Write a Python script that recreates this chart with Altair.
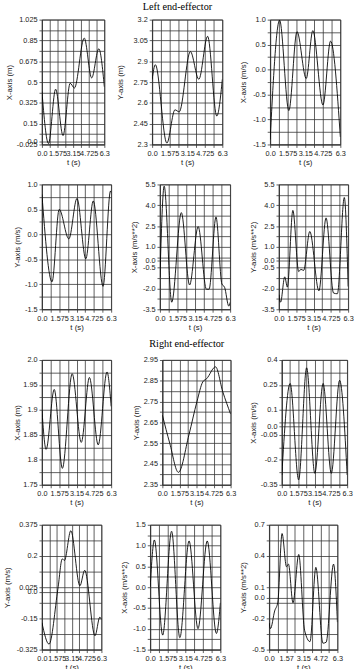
import altair as alt
import pandas as pd

# ---- shared time axis -------------------------------------------------------
T_END = 6.3
T_TICKS = [0.0, 1.575, 3.15, 4.725, 6.3]
T_LABELS = ["0.0", "1.575", "3.15", "4.725", "6.3"]
T_LABELS_SHORT = ["0.0", "1.57", "3.15", "4.72", "6.3"]

# ---- Left end-effector ------------------------------------------------------
LX_POS_T = [0.0, 0.66, 1.38, 2.13, 2.85, 3.28, 4.27, 5.02, 5.74, 6.3]
LX_POS_V = [0.42, -0.017, 0.44, 0.05, 0.49, 0.45, 0.87, 0.535, 0.78, 0.46]

LY_POS_T = [0.0, 0.29, 1.32, 2.05, 2.43, 3.43, 4.19, 4.98, 5.80, 6.3]
LY_POS_V = [2.77, 2.875, 2.31, 2.55, 2.535, 2.97, 2.77, 3.08, 2.505, 2.77]

LX_VEL_T = [0.0, 0.85, 1.68, 2.41, 3.24, 3.83, 4.74, 5.42, 6.3]
LX_VEL_V = [-1.4, 0.99, -0.82, 0.76, -0.18, 0.78, -0.71, 0.57, -1.35]

LY_VEL_T = [0.0, 0.92, 1.57, 2.45, 3.19, 3.99, 4.67, 5.56, 6.24, 6.3]
LY_VEL_V = [0.80, -0.95, 0.50, -0.09, 0.72, -0.49, 0.67, -1.04, 0.87, 0.84]

LX_ACC_T = [0.0, 0.38, 1.06, 1.92, 2.66, 3.43, 4.17, 4.41, 5.03, 5.56, 5.80, 6.18, 6.3]
LX_ACC_V = [-1.2, 5.38, -2.99, 3.47, -1.75, 2.46, -2.05, -2.05, 3.16, -1.68, -1.91, -3.27, -3.0]

LY_ACC_T = [0.0, 0.15, 0.53, 0.77, 1.27, 1.80, 2.0, 2.25, 2.81, 3.64, 4.29, 4.97, 5.32, 5.95, 6.3]
LY_ACC_V = [-2.45, -2.99, -1.16, -1.9, 3.63, -0.78, -0.62, -0.70, 2.11, -2.17, 3.09, -2.33, -2.38, 4.56, -1.86]

# ---- Right end-effector -----------------------------------------------------
RX_POS_T = [0.0, 0.38, 1.12, 1.86, 2.75, 3.58, 4.32, 5.12, 5.92, 6.3]
RX_POS_V = [1.90, 1.821, 1.941, 1.783, 1.9725, 1.835, 1.965, 1.83, 1.976, 1.907]

RY_POS_T = [0.0, 0.68, 1.48, 2.45, 3.19, 3.73, 4.08, 4.91, 5.56, 6.3]
RY_POS_V = [2.685, 2.55, 2.41, 2.59, 2.75, 2.845, 2.86, 2.917, 2.80, 2.69]

RX_VEL_T = [0.0, 0.80, 1.62, 2.39, 3.18, 3.98, 4.77, 5.57, 6.3]
RX_VEL_V = [-0.291, 0.259, -0.32, 0.353, -0.281, 0.259, -0.281, 0.278, -0.291]

RY_VEL_T = [0.0, 0.75, 1.70, 2.15, 2.38, 3.06, 4.02, 4.53, 5.62, 6.13, 6.3]
RY_VEL_V = [-0.174, -0.294, 0.020, 0.184, 0.175, 0.342, 0.033, 0.12, -0.247, -0.143, -0.156]

RX_ACC_T = [0.0, 0.38, 1.12, 1.92, 2.66, 3.49, 4.29, 5.12, 5.94, 6.3]
RX_ACC_V = [0.01, 1.136, -1.151, 1.345, -1.213, 1.112, -0.996, 1.112, -1.112, -0.376]

RY_ACC_T = [0.0, 0.12, 0.51, 0.80, 1.19, 1.60, 1.78, 2.20, 2.73, 3.27, 3.77, 4.31, 4.96, 5.26, 5.94, 6.3]
RY_ACC_V = [-0.243, -0.298, -0.128, -0.044, 0.616, 0.297, 0.322, -0.05, 0.415, -0.314, -0.423,
            0.291, -0.438, -0.429, 0.322, -0.236]

# ---- y tick values / labels per panel ---------------------------------------
Y_TICKS = {
    "lxp": [-0.025, 0.15, 0.325, 0.5, 0.675, 0.85, 1.025],
    "lyp": [2.3, 2.45, 2.6, 2.75, 2.9, 3.05, 3.2],
    "lxv": [-1.5, -1.0, -0.5, 0.0, 0.5, 1.0],
    "lyv": [-1.5, -1.0, -0.5, 0.0, 0.5, 1.0],
    "lxa": [-3.5, -2.0, -0.5, 1.0, 2.5, 4.0, 5.5],
    "lya": [-3.5, -2.0, -0.5, 1.0, 2.5, 4.0, 5.5],
    "rxp": [1.75, 1.8, 1.85, 1.9, 1.95, 2.0],
    "ryp": [2.35, 2.45, 2.55, 2.65, 2.75, 2.85, 2.95],
    "rxv": [-0.35, -0.2, -0.05, 0.1, 0.25, 0.4],
    "ryv": [-0.325, -0.15, 0.025, 0.2, 0.375],
    "rxa": [-1.5, -1.0, -0.5, 0.0, 0.5, 1.0, 1.5],
    "rya": [-0.5, -0.2, 0.1, 0.4, 0.7],
}
Y_LABELS = {
    "lxp": ["-0.025", "0.15", "0.325", "0.5", "0.675", "0.85", "1.025"],
    "lyp": ["2.3", "2.45", "2.6", "2.75", "2.9", "3.05", "3.2"],
    "lxv": ["-1.5", "-1.0", "-0.5", "0.0", "0.5", "1.0"],
    "lyv": ["-1.5", "-1.0", "-0.5", "0.0", "0.5", "1.0"],
    "lxa": ["-3.5", "-2.0", "-0.5", "1.0", "2.5", "4.0", "5.5"],
    "lya": ["-3.5", "-2.0", "-0.5", "1.0", "2.5", "4.0", "5.5"],
    "rxp": ["1.75", "1.8", "1.85", "1.9", "1.95", "2.0"],
    "ryp": ["2.35", "2.45", "2.55", "2.65", "2.75", "2.85", "2.95"],
    "rxv": ["-0.35", "-0.2", "-0.05", "0.1", "0.25", "0.4"],
    "ryv": ["-0.325", "-0.15", "0.025", "0.2", "0.375"],
    "rxa": ["-1.5", "-1.0", "-0.5", "0.0", "0.5", "1.0", "1.5"],
    "rya": ["-0.5", "-0.2", "0.1", "0.4", "0.7"],
}
# panels whose axis also marks the zero line
EXTRA_ZERO = {"lxp", "lxa", "lya", "rxv", "ryv", "rya"}

Y_TITLES = {
    "lxp": "X-axis (m)", "lyp": "Y-axis (m)", "lxv": "X-axis (m/s)",
    "lyv": "Y-axis (m/s)", "lxa": "X-axis (m/s**2)", "lya": "Y-axis (m/s**2)",
    "rxp": "X-axis (m)", "ryp": "Y-axis (m)", "rxv": "X-axis (m/s)",
    "ryv": "Y-axis (m/s)", "rxa": "X-axis (m/s**2)", "rya": "Y-axis (m/s**2)",
}

SERIES = {
    "lxp": (LX_POS_T, LX_POS_V), "lyp": (LY_POS_T, LY_POS_V),
    "lxv": (LX_VEL_T, LX_VEL_V), "lyv": (LY_VEL_T, LY_VEL_V),
    "lxa": (LX_ACC_T, LX_ACC_V), "lya": (LY_ACC_T, LY_ACC_V),
    "rxp": (RX_POS_T, RX_POS_V), "ryp": (RY_POS_T, RY_POS_V),
    "rxv": (RX_VEL_T, RX_VEL_V), "ryv": (RY_VEL_T, RY_VEL_V),
    "rxa": (RX_ACC_T, RX_ACC_V), "rya": (RY_ACC_T, RY_ACC_V),
}

PLOT_H = 128
GRID = "#333333"
INK = "#1a1a1a"


def label_expr(values, labels):
    parts = [f"abs(datum.value - ({v})) < 1e-6 ? '{s}'" for v, s in zip(values, labels)]
    return " : ".join(parts) + " : ''"


def with_midpoints(values):
    out = []
    for a, b in zip(values[:-1], values[1:]):
        out += [a, (a + b) / 2]
    return out + [values[-1]]


def panel(key, width, extent, short_t=False, title=None):
    t, v = SERIES[key]
    df = pd.DataFrame({"t": t, "v": v})
    ticks = Y_TICKS[key]
    labels = list(Y_LABELS[key])
    grid = with_midpoints(ticks)
    lab_vals = list(ticks)
    if key in EXTRA_ZERO:
        grid.append(0.0)
        lab_vals.append(0.0)
        labels.append("0.0")
    t_grid = with_midpoints(T_TICKS)
    x_axis = alt.Axis(
        values=t_grid,
        labelExpr=label_expr(T_TICKS, T_LABELS_SHORT if short_t else T_LABELS),
        labelOverlap=False, labelFlush=False, title="t (s)",
    )
    y_axis = alt.Axis(
        values=grid, labelExpr=label_expr(lab_vals, labels),
        labelOverlap=False, labelFlush=False, title=Y_TITLES[key],
        minExtent=extent, maxExtent=extent,
    )
    ch = alt.Chart(df).mark_line(
        color="black", strokeWidth=0.9, interpolate="monotone", clip=True
    ).encode(
        x=alt.X("t:Q", scale=alt.Scale(domain=[0, T_END], nice=False, zero=False), axis=x_axis),
        y=alt.Y("v:Q", scale=alt.Scale(domain=[ticks[0], ticks[-1]], nice=False, zero=False),
                axis=y_axis),
    )
    props = dict(width=width, height=PLOT_H)
    if title is not None:
        props["title"] = title
    return ch.properties(**props)


def section_title(text, offset):
    return alt.TitleParams(text, font="Liberation Serif", fontSize=10.5, fontWeight="normal",
                           color="black", anchor="middle", dx=-10, offset=offset)


row1 = alt.hconcat(
    panel("lxp", 64, 27),
    panel("lyp", 72, 26, title=section_title("Left end-effector", 3.5)),
    panel("lxv", 72, 21),
    spacing=49, bounds="flush",
)
row2 = alt.hconcat(
    panel("lyv", 71, 19), panel("lxa", 72, 20.5), panel("lya", 71, 20.5),
    spacing=50, bounds="flush",
)
row3 = alt.hconcat(
    panel("rxp", 71, 19),
    panel("ryp", 70, 20.5, title=section_title("Right end-effector", 7)),
    panel("rxv", 67, 23.5),
    spacing=52.5, bounds="flush",
)
row4 = alt.hconcat(
    panel("ryv", 61, 29), panel("rxa", 72, 20.5), panel("rya", 70, 20.5, short_t=True),
    spacing=50, bounds="flush",
)

chart = alt.vconcat(
    alt.vconcat(row1, row2, spacing=13),
    alt.vconcat(row3, row4, spacing=13),
    spacing=7,
).properties(
    padding={"left": 3, "top": -7.5, "right": 0, "bottom": 0},
    background="white",
).configure_view(
    stroke=GRID, strokeWidth=0.8,
).configure_axis(
    labelFont="Liberation Sans", labelFontSize=7.5, labelColor=INK,
    titleFont="Liberation Sans", titleFontSize=8, titleFontWeight="normal", titleColor=INK,
    gridColor=GRID, gridWidth=0.8, gridOpacity=1,
    domainColor=GRID, domainWidth=0.8, tickColor=GRID, tickWidth=0.8,
    tickSize=3, labelPadding=2, titlePadding=2,
)

chart.save("out.html", embed_options={"renderer": "svg", "actions": False})
